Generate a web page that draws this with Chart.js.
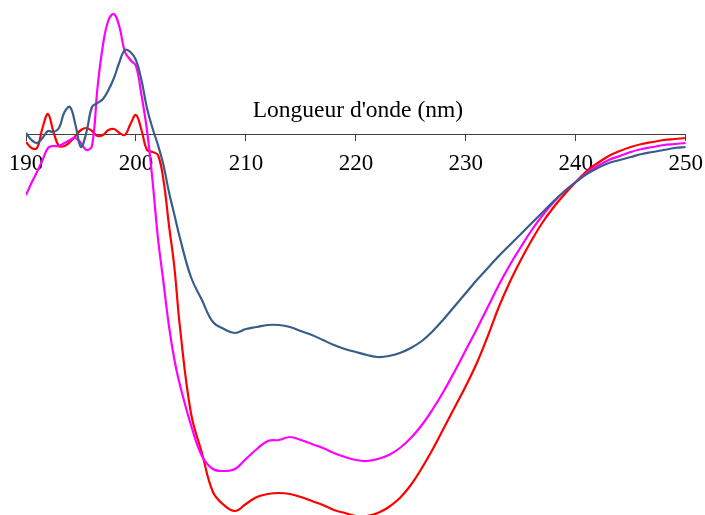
<!DOCTYPE html>
<html lang="fr">
<head>
    <meta charset="UTF-8">
    <title>Spectre CD</title>
    <script src="https://cdn.jsdelivr.net/npm/chart.js"></script>
    <style>
        body { margin: 0; background: #fff; }
        #wrap { width: 705px; height: 515px; }
    </style>
</head>
<body>
<div id="wrap">
    <canvas id="cdChart" width="705" height="515"></canvas>
</div>

<script>
    // longueurs d'onde (nm)
    const wavelengths = [190, 190.5, 191, 191.5, 192, 192.5, 193, 193.5, 194, 194.5, 195, 195.5, 196, 196.5,
        197, 197.5, 198, 198.5, 199, 199.5, 200, 200.5, 201, 201.5, 202, 202.5, 203, 203.5, 204,
        205, 206, 207, 208, 209, 210, 211, 212, 213, 214, 215, 216, 217, 218, 219, 220,
        221, 222, 223, 224, 225, 226, 227, 228, 229, 230, 231, 232, 233, 234, 235,
        236, 237, 238, 239, 240, 241, 242, 243, 244, 245, 246, 247, 248, 249, 250];

    const bleu = [0.1, -0.6, -0.9, -0.4, 0.3, 0.2, 0.6, 2.2, 2.7, 0.9, -1.3, 0.2, 2.7, 3.1,
        3.5, 4.4, 5.6, 7.2, 8.4, 8.2, 7.4, 5.4, 2.6, 0.6, -1.1, -3.1, -5.8, -8.1, -10.4,
        -14.3, -16.6, -18.8, -19.5, -19.9, -19.5, -19.3, -19.1, -19.1, -19.3, -19.7, -20.1, -20.6, -21.1, -21.5, -21.8,
        -22.1, -22.3, -22.2, -21.9, -21.4, -20.7, -19.7, -18.5, -17.2, -15.9, -14.6, -13.4, -12.2, -11.1, -10.0,
        -8.9, -7.8, -6.7, -5.7, -4.8, -4.0, -3.4, -2.9, -2.6, -2.3, -2.0, -1.8, -1.6, -1.4, -1.3];

    const rouge = [-0.8, -1.4, -1.4, 0.6, 2.0, 0.2, -1.2, -1.2, -0.8, -0.2, 0.4, 0.6, 0.3, -0.2,
        -0.1, 0.4, 0.5, 0.1, -0.1, 1.0, 1.9, 0.4, -1.6, -1.8, -2.1, -4.6, -9.1, -13.4, -19.3,
        -27.9, -31.9, -35.8, -37.1, -37.7, -37.0, -36.3, -36.0, -35.9, -36.0, -36.3, -36.7, -37.1, -37.6, -37.9, -38.2,
        -38.2, -37.9, -37.3, -36.4, -35.1, -33.4, -31.5, -29.4, -27.3, -25.2, -22.9, -20.2, -17.3, -14.8, -12.6,
        -10.6, -8.8, -7.3, -6.0, -4.8, -3.7, -2.9, -2.2, -1.7, -1.3, -1.0, -0.8, -0.6, -0.5, -0.4];

    const magenta = [-6.1, -4.9, -3.8, -2.6, -1.4, -1.2, -1.2, -0.9, -0.6, -0.4, -0.9, -1.6, -1.2, 4.6,
        8.9, 11.4, 12.0, 10.7, 8.2, 7.4, 6.8, 3.9, 0.4, -4.6, -10.4, -14.8, -19.2, -22.6, -25.1,
        -29.1, -32.2, -33.5, -33.7, -33.5, -32.5, -31.5, -30.7, -30.6, -30.3, -30.6, -31.0, -31.4, -31.9, -32.3, -32.6,
        -32.7, -32.5, -32.1, -31.4, -30.4, -29.1, -27.5, -25.7, -23.7, -21.6, -19.5, -17.3, -15.1, -13.1, -11.3,
        -9.6, -8.1, -6.8, -5.7, -4.8, -3.9, -3.2, -2.6, -2.2, -1.8, -1.5, -1.3, -1.1, -1.0, -0.9];

    const xTicks = [190, 200, 210, 220, 230, 240, 250];
    const axisTitle = "Longueur d'onde (nm)";

    const serif = "'Liberation Serif', 'Times New Roman', serif";

    function points(values) {
        return wavelengths.map((w, i) => ({ x: w, y: values[i] }));
    }

    // titre de l'axe au-dessus de la ligne du zéro
    const axisCaption = {
        id: 'axisCaption',
        afterDraw(chart) {
            const ctx = chart.ctx;
            const xs = chart.scales.x;
            const y0 = chart.scales.y.getPixelForValue(0);
            ctx.save();
            ctx.font = '23.5px ' + serif;
            ctx.fillStyle = '#000';
            ctx.textAlign = 'center';
            ctx.textBaseline = 'alphabetic';
            ctx.fillText(axisTitle, (xs.left + xs.right) / 2 + 2, y0 - 17);
            ctx.restore();
        }
    };

    const ligne = (label, data, color) => ({
        label: label,
        data: points(data),
        borderColor: color,
        borderWidth: 2.2,
        pointRadius: 0,
        fill: false,
        tension: 0.4
    });

    new Chart(document.getElementById('cdChart'), {
        type: 'line',
        data: {
            datasets: [
                ligne('bleu', bleu, '#385D8A'),
                ligne('magenta', magenta, '#FF00FF'),
                ligne('rouge', rouge, '#FF0000')
            ]
        },
        options: {
            responsive: false,
            animation: false,
            devicePixelRatio: 1,
            layout: { padding: { left: 26, right: 19, top: 0, bottom: 0 } },
            plugins: {
                legend: { display: false },
                tooltip: { enabled: false }
            },
            scales: {
                x: {
                    type: 'linear',
                    position: { y: 0 },
                    min: 190,
                    max: 250,
                    afterBuildTicks(scale) {
                        scale.ticks = xTicks.map(v => ({ value: v }));
                    },
                    border: { display: true, color: '#404040', width: 1 },
                    grid: {
                        drawOnChartArea: false,
                        drawTicks: true,
                        tickLength: 6,
                        tickColor: '#404040'
                    },
                    ticks: {
                        padding: 2,
                        maxRotation: 0,
                        autoSkip: false,
                        color: '#000',
                        font: { family: serif, size: 23, lineHeight: 1.9 }
                    }
                },
                y: {
                    display: false,
                    min: -38.1,
                    max: 13.4
                }
            }
        },
        plugins: [axisCaption]
    });
</script>
</body>
</html>
